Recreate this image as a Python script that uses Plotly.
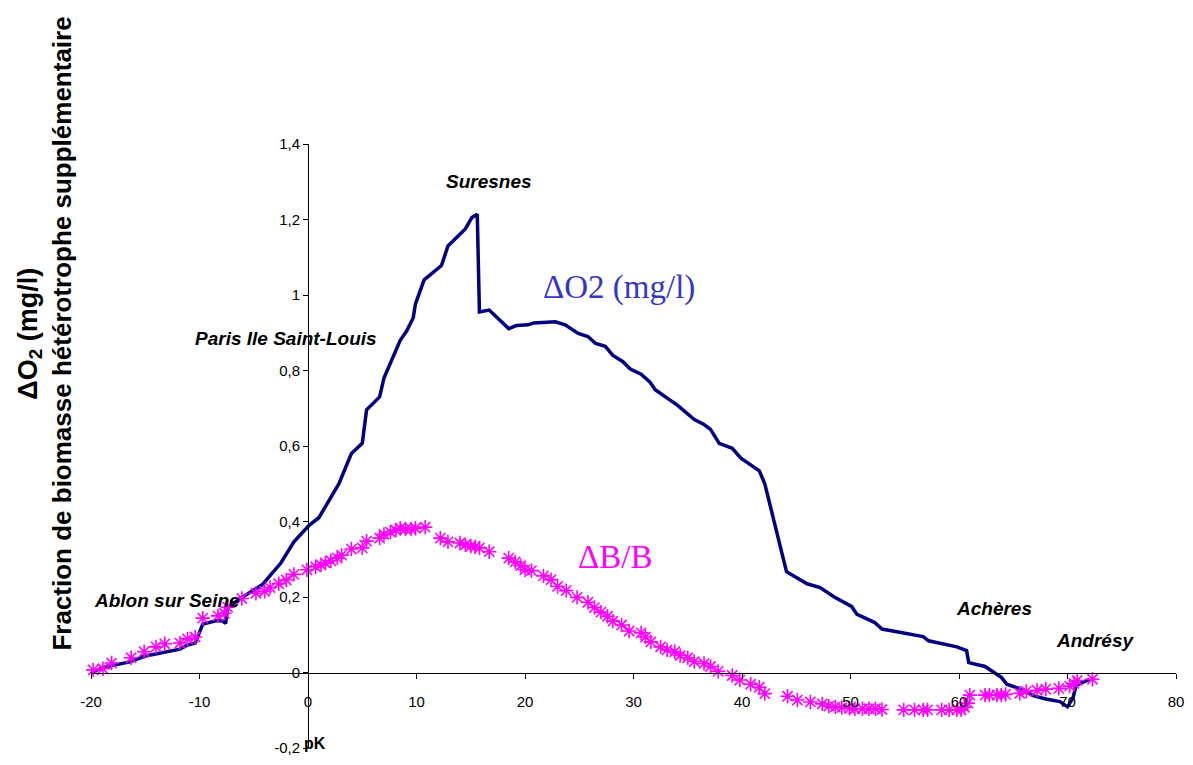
import plotly.graph_objects as go

# Dissolved-oxygen deficit along the Seine (pK in km, mg/l)
pk_o2 = [-20.0, -18.7, -16.4, -15.1, -11.8, -11.1, -10.4, -9.7, -8.5, -7.9, -7.6, -7.4,
         -6.3, -4.2, -3.4, -2.5, -1.3, 0.1, 1.0, 2.85, 4.0, 5.0, 5.4, 6.6, 7.0, 8.5,
         9.1, 9.7, 9.9, 10.7, 12.3, 12.9, 14.5, 15.1, 15.6, 15.8, 16.7, 18.5, 19.2,
         20.3, 20.8, 22.8, 23.7, 24.9, 25.8, 26.5, 27.4, 28.1, 29.0, 29.7, 30.7, 31.5,
         32.0, 33.1, 34.1, 35.6, 36.5, 37.1, 37.9, 39.1, 39.9, 40.7, 41.6, 42.1, 44.1,
         46.0, 47.2, 48.5, 50.1, 50.6, 52.2, 52.9, 56.7, 57.2, 59.8, 60.7, 60.9, 62.4,
         63.0, 63.9, 64.4, 65.5, 66.9, 68.0, 69.3, 70.0, 70.5, 70.8, 72.0]
do2 = [0.0, 0.015, 0.028, 0.043, 0.062, 0.073, 0.078, 0.128, 0.137, 0.137, 0.130, 0.172,
       0.195, 0.233, 0.260, 0.290, 0.346, 0.390, 0.410, 0.500, 0.580, 0.607, 0.696, 0.730,
       0.780, 0.880, 0.905, 0.940, 0.976, 1.040, 1.078, 1.130, 1.175, 1.205, 1.214, 0.955,
       0.960, 0.911, 0.919, 0.921, 0.926, 0.929, 0.921, 0.898, 0.890, 0.872, 0.864, 0.840,
       0.824, 0.804, 0.790, 0.770, 0.749, 0.728, 0.707, 0.670, 0.657, 0.644, 0.607, 0.594,
       0.568, 0.552, 0.534, 0.500, 0.267, 0.235, 0.225, 0.200, 0.175, 0.154, 0.133, 0.115,
       0.095, 0.084, 0.068, 0.058, 0.026, 0.016, 0.005, -0.013, -0.031, -0.042, -0.062,
       -0.070, -0.077, -0.091, -0.068, -0.034, -0.018]

# Additional heterotrophic biomass fraction
pk_b = [-19.8, -18.9, -18.1, -16.3, -15.1, -14.0, -13.2, -11.8, -11.1, -10.4, -9.7, -8.3,
        -7.7, -7.4, -6.1, -4.8, -4.0, -3.5, -2.7, -2.0, -1.3, -0.1, 0.7, 1.2, 1.6, 2.1,
        2.7, 3.1, 4.0, 5.0, 5.4, 6.6, 7.0, 7.6, 8.1, 8.5, 9.0, 9.5, 9.9, 10.8, 12.2, 12.9,
        14.0, 14.5, 15.0, 15.4, 15.8, 16.7, 18.5, 19.1, 19.6, 20.0, 20.6, 21.7, 22.4, 23.0,
        23.8, 24.8, 25.8, 26.4, 27.0, 27.6, 28.1, 28.9, 29.6, 30.7, 31.1, 31.6, 32.5, 33.1,
        33.8, 34.3, 35.0, 35.6, 36.5, 37.1, 37.8, 39.1, 39.8, 40.8, 41.6, 42.1, 44.2, 45.1,
        46.3, 47.4, 48.0, 48.6, 49.2, 49.9, 50.4, 51.1, 51.7, 52.3, 52.9, 54.9, 55.9, 56.7,
        57.1, 58.4, 59.1, 59.8, 60.2, 60.5, 60.8, 61.0, 62.4, 62.8, 63.5, 63.9, 64.3, 65.6,
        66.2, 67.2, 68.0, 69.2, 70.2, 70.6, 70.9, 72.3]
db_b = [0.007, 0.010, 0.025, 0.039, 0.055, 0.068, 0.076, 0.078, 0.089, 0.094, 0.144, 0.150,
        0.157, 0.173, 0.196, 0.210, 0.215, 0.225, 0.235, 0.245, 0.260, 0.272, 0.280, 0.285,
        0.290, 0.296, 0.303, 0.311, 0.327, 0.330, 0.348, 0.356, 0.366, 0.372, 0.377, 0.382,
        0.380, 0.380, 0.382, 0.385, 0.356, 0.346, 0.343, 0.338, 0.335, 0.333, 0.330, 0.320,
        0.303, 0.293, 0.283, 0.272, 0.270, 0.256, 0.246, 0.228, 0.217, 0.199, 0.186, 0.172,
        0.160, 0.149, 0.136, 0.126, 0.110, 0.105, 0.094, 0.081, 0.068, 0.060, 0.055, 0.045,
        0.039, 0.029, 0.024, 0.016, 0.003, -0.008, -0.020, -0.031, -0.039, -0.056, -0.063,
        -0.073, -0.078, -0.083, -0.089, -0.091, -0.093, -0.095, -0.096, -0.096, -0.096,
        -0.096, -0.098, -0.099, -0.099, -0.099, -0.099, -0.099, -0.099, -0.099, -0.099,
        -0.092, -0.081, -0.060, -0.060, -0.060, -0.060, -0.060, -0.058, -0.055, -0.050,
        -0.047, -0.044, -0.042, -0.036, -0.029, -0.021, -0.018]

x_ticks = [-20, -10, 0, 10, 20, 30, 40, 50, 60, 70, 80]
y_ticks = [-0.2, 0, 0.2, 0.4, 0.6, 0.8, 1.0, 1.2, 1.4]
y_tick_text = ["-0,2", "0", "0,2", "0,4", "0,6", "0,8", "1", "1,2", "1,4"]

# Named sites along the river: (label, pK, y)
sites = [("Suresnes", 16.7, 1.30), ("Paris Ile Saint-Louis", -2.0, 0.885),
         ("Ablon sur Seine", -13.0, 0.19), ("Achères", 63.2, 0.17),
         ("Andrésy", 72.5, 0.086)]

X_RANGE = [-20, 80]
Y_RANGE = [-0.2, 1.4]

W, H = 1193, 765
ML, MR, MT, MB = 91, 13, 144, 9
pw, ph = W - ML - MR, H - MT - MB


def px_to_paper(px, py):
    """Pixel position on the page -> paper coordinates of the plot area."""
    return (px - ML) / pw, (H - MB - py) / ph


fig = go.Figure()
fig.add_trace(go.Scatter(x=pk_o2, y=do2, mode="lines",
                         line=dict(color="#000080", width=3.5),
                         showlegend=False, cliponaxis=False))
fig.add_trace(go.Scatter(x=pk_b, y=db_b, mode="markers",
                         marker=dict(symbol="asterisk-open", size=12, color="#FF00FF",
                                     line=dict(color="#FF00FF", width=1.6)),
                         showlegend=False, cliponaxis=False))

annotations = []
for name, xx, yy in sites:
    annotations.append(dict(x=xx, y=yy, xref="x", yref="y", text=f"<b><i>{name}</i></b>",
                            showarrow=False, xanchor="center", yanchor="middle",
                            font=dict(family="Arial", size=19, color="black")))

t1x, t1y = px_to_paper(30, 336)
t2x, t2y = px_to_paper(62, 336)
annotations += [
    dict(x=28.7, y=1.02, xref="x", yref="y", text="ΔO2 (mg/l)", showarrow=False,
         xanchor="center", yanchor="middle",
         font=dict(family="Liberation Serif", size=33, color="#3535C8")),
    dict(x=28.3, y=0.306, xref="x", yref="y", text="ΔB/B", showarrow=False,
         xanchor="center", yanchor="middle",
         font=dict(family="Liberation Serif", size=33, color="#FF00FF")),
    dict(x=0.6, y=-0.187, xref="x", yref="y", text="<b>pK</b>", showarrow=False,
         xanchor="center", yanchor="middle",
         font=dict(family="Arial", size=16, color="black")),
    dict(x=t1x, y=t1y, xref="paper", yref="paper", text="<b>ΔO<sub>2</sub> (mg/l)</b>",
         showarrow=False, textangle=-90, xanchor="center", yanchor="middle",
         font=dict(family="Arial", size=27, color="black")),
    dict(x=t2x, y=t2y, xref="paper", yref="paper",
         text="<b>Fraction de biomasse hétérotrophe supplémentaire</b>",
         showarrow=False, textangle=-90, xanchor="center", yanchor="middle",
         font=dict(family="Arial", size=26, color="black")),
]

fig.update_layout(
    width=W, height=H,
    margin=dict(l=ML, r=MR, t=MT, b=MB),
    paper_bgcolor="white", plot_bgcolor="white",
    font=dict(family="Arial", size=15, color="black"),
    annotations=annotations,
    xaxis=dict(range=X_RANGE, anchor="free",
               position=(0 - Y_RANGE[0]) / (Y_RANGE[1] - Y_RANGE[0]),
               tickvals=x_ticks, ticktext=[str(v) for v in x_ticks],
               showgrid=False, zeroline=False, showline=True, linecolor="black",
               linewidth=1, ticks="outside", ticklen=5, tickcolor="black",
               ticklabelstandoff=10),
    yaxis=dict(range=Y_RANGE, anchor="free",
               position=(0 - X_RANGE[0]) / (X_RANGE[1] - X_RANGE[0]),
               tickvals=y_ticks, ticktext=y_tick_text,
               showgrid=False, zeroline=False, showline=True, linecolor="black",
               linewidth=1, ticks="outside", ticklen=5, tickcolor="black"),
)

fig.write_html("out.html")
